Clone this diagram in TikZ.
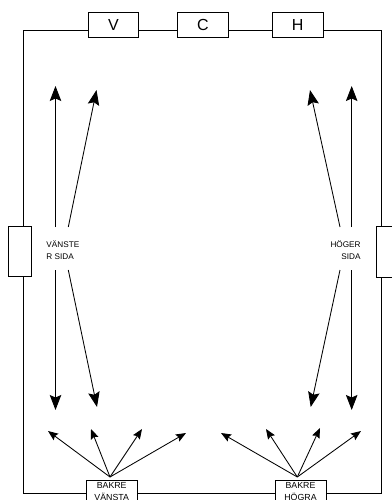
\documentclass[tikz,border=0pt]{standalone}
\usepackage{fontspec}
\setmainfont{Liberation Sans}
\usetikzlibrary{arrows.meta}
\begin{document}
\begin{tikzpicture}[x=1pt,y=-1pt,
  line width=0.85pt,
  topbox/.style={draw,fill=white,minimum width=50.6pt,minimum height=25pt,inner sep=0pt,font=\fontsize{16}{18}\selectfont},
  sidebox/.style={draw,fill=white,minimum width=23pt,minimum height=50.7pt,inner sep=0pt},
  botbox/.style={draw,fill=white,anchor=north,minimum width=51pt,inner xsep=0pt,inner ysep=2.4pt,align=center,font=\fontsize{8.8}{12}\selectfont},
  lbl/.style={inner sep=0pt,font=\fontsize{8.2}{12}\selectfont},
  bigarrow/.style={-{Stealth[length=15pt,width=11.5pt,inset=2.5pt]}},
  fanarrow/.style={-{Stealth[length=10pt,width=8pt,inset=1.5pt]}}]
\useasboundingbox (0,0) rectangle (391,500);
% frame
\draw (23,30) rectangle (381.5,493.3);
% top boxes
\node[topbox] (v) at (113.5,25.2) {V};
\node[topbox] (c) at (203,25.2) {C};
\node[topbox] (h) at (297.7,25.2) {H};
% side boxes
\node[sidebox] (lb) at (20.2,251.4) {};
\node[sidebox] (rb) at (387.5,251.7) {};
% bottom boxes
\node[botbox] (bl) at (111.7,480) {BAKRE\\VÄNSTA};
\node[botbox] (br) at (300.5,480) {BAKRE\\HÖGRA};
% side labels
\node[lbl,anchor=north west,align=left] (lt) at (46,240.5) {VÄNSTE\\R SIDA};
\node[lbl,anchor=north east,align=right] (rt) at (361,240.5) {HÖGER\\SIDA};
% left arrows
\coordinate (la1) at (55.5,227);
\coordinate (la1t) at (55.5,86);
\coordinate (la2) at (68.3,227);
\coordinate (la2t) at (96.5,90);
\coordinate (la3) at (55.5,270);
\coordinate (la3t) at (55.5,410);
\coordinate (la4) at (68.3,270);
\coordinate (la4t) at (97,407);
\draw[bigarrow] (la1) -- (la1t);
\draw[bigarrow] (la2) -- (la2t);
\draw[bigarrow] (la3) -- (la3t);
\draw[bigarrow] (la4) -- (la4t);
% right arrows
\coordinate (ra1) at (351.7,227);
\coordinate (ra1t) at (351.7,86);
\coordinate (ra2) at (340,227);
\coordinate (ra2t) at (310,90);
\coordinate (ra3) at (351.7,270);
\coordinate (ra3t) at (351.7,410);
\coordinate (ra4) at (340,270);
\coordinate (ra4t) at (310.7,407);
\draw[bigarrow] (ra1) -- (ra1t);
\draw[bigarrow] (ra2) -- (ra2t);
\draw[bigarrow] (ra3) -- (ra3t);
\draw[bigarrow] (ra4) -- (ra4t);
% fan arrows left
\coordinate (fl) at (110,477);
\coordinate (fl1) at (48,431);
\coordinate (fl2) at (91,429);
\coordinate (fl3) at (142,429);
\coordinate (fl4) at (186,433);
\foreach \t in {fl1,fl2,fl3,fl4} \draw[fanarrow] (fl) -- (\t);
% fan arrows right
\coordinate (fr) at (297.3,477);
\coordinate (fr1) at (221,433);
\coordinate (fr2) at (266,429);
\coordinate (fr3) at (320,428);
\coordinate (fr4) at (361,431);
\foreach \t in {fr1,fr2,fr3,fr4} \draw[fanarrow] (fr) -- (\t);
\end{tikzpicture}
\end{document}
